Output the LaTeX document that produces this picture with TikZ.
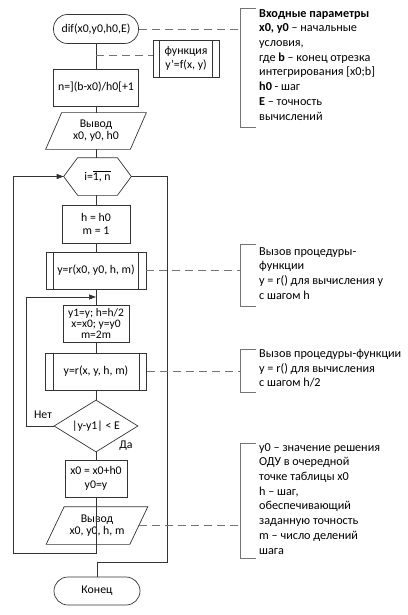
\documentclass[tikz,border=0pt]{standalone}
\usepackage{fontspec}
\setmainfont{Carlito}
\usepackage{tikz}
\usetikzlibrary{arrows.meta,shapes.geometric}

\tikzset{
    line/.style={draw=black!80, line width=.7pt},
    box/.style={line, rectangle, align=center, inner sep=0pt, font=\fontsize{11.8}{13.5}\selectfont},
    term/.style={box, rounded corners=14pt},
    bare/.style={box, draw=none},
    link/.style={line, -{Triangle[length=7pt,width=5pt]}},
    note/.style={align=left, anchor=north west, inner sep=0pt, font=\fontsize{12.2}{14.7}\selectfont},
    bracket/.style={draw=black!55, line width=.7pt},
    comm/.style={draw=black!55, line width=.7pt, dash pattern=on 8pt off 5pt},
}

\begin{document}
\begin{tikzpicture}[x=1pt, y=-1pt]
    \useasboundingbox (0,0) rectangle (407,615);

    % flowchart
    \node[term, minimum width=85pt, minimum height=29pt] (start) at (96,29) {dif(x0,y0,h0,E)};
    \node[box, minimum width=66pt, minimum height=37pt] (func) at (186,58.5) {функция\\y'=f(x, y)};
    \node[box, minimum width=85pt, minimum height=37pt] (calc) at (96,87.5) {n=](b-x0)/h0[+1};
    \node[bare, minimum width=84pt, minimum height=36pt, font=\fontsize{11.8}{12}\selectfont] (out1) at (96,131) {Вывод\\x0, y0, h0};
    \node[bare, minimum width=67pt, minimum height=37pt] (loop) at (97.5,176.5) {i=$\overline{\mbox{1, n}}$};
    \node[box, minimum width=68pt, minimum height=38pt] (init) at (96,224) {h = h0\\m = 1};
    \node[box, minimum width=100pt, minimum height=37pt] (call1) at (96,270.5) {y=r(x0, y0, h, m)};
    \node[box, minimum width=66pt, minimum height=37pt, font=\fontsize{11.5}{11}\selectfont] (half) at (96,323.5) {y1=y; h=h/2\\x=x0; y=y0\\m=2m};
    \node[box, minimum width=101pt, minimum height=37pt] (call2) at (96,371.5) {y=r(x, y, h, m)};
    \node[box, diamond, aspect=1.6, minimum width=84pt, minimum height=52pt] (test) at (96,426) {|y-y1| < E};
    \node[box, minimum width=62pt, minimum height=37pt] (step) at (96,478.5) {x0 = x0+h0\\y0=y};
    \node[bare, minimum width=83pt, minimum height=37pt, font=\fontsize{11.8}{12}\selectfont] (out2) at (97,525.5) {Вывод\\x0, y0, h, m};
    \node[term, minimum width=86pt, minimum height=28pt] (stop) at (97,591) {Конец};

    \node[bare] (no) at (43,415) {Нет};
    \node[bare] (yes) at (126,446) {Да};

    % outlines of the bare nodes
    \draw[line] ([xshift=8pt]out1.north west) -- ([xshift=8pt]out1.north east)
        -- ([xshift=-8pt]out1.south east) -- ([xshift=-8pt]out1.south west) -- cycle;
    \draw[line] ([xshift=9pt]out2.north west) -- ([xshift=9pt]out2.north east)
        -- ([xshift=-9pt]out2.south east) -- ([xshift=-9pt]out2.south west) -- cycle;
    \draw[line] (loop.west) -- ([xshift=14pt]loop.north west) -- ([xshift=-14pt]loop.north east)
        -- (loop.east) -- ([xshift=-14pt]loop.south east) -- ([xshift=14pt]loop.south west) -- cycle;
    \foreach \n/\d in {func/7pt, call1/8pt, call2/8pt} {
        \draw[line] ([xshift=\d]\n.north west) -- ([xshift=\d]\n.south west);
        \draw[line] ([xshift=-\d]\n.north east) -- ([xshift=-\d]\n.south east);
    }

    % connectors
    \draw[line] (start) -- (calc);
    \draw[line] (calc) -- (out1);
    \draw[line] (out1) -- (loop.north -| out1.south);
    \draw[line] (loop.south -| init.north) -- (init);
    \draw[line] (init) -- (call1);
    \draw[line] (call1) -- (half);
    \draw[line] (half) -- (call2);
    \draw[line] (call2) -- (test);
    \draw[line] (test) -- (step);
    \draw[line] (step) -- (out2.south -| step.south);

    \coordinate (join) at (96,297);
    \draw[link] (test.west) -- ++(-27,0) |- (join);
    \draw[link] (out2.south -| step.south) -- ++(0,9) -- ++(-83,0) |- (loop.west);
    \draw[line] (loop.east) -| (167,562) -| (stop.north);

    % comments
    \coordinate (bx) at (240,0);
    \coordinate (fa) at (96,55);
    \draw[comm] (fa) -- (fa -| func.west);
    \draw[comm] (start.east) -- (start.east -| bx);
    \draw[comm] (call1.east) -- (call1.east -| bx);
    \draw[comm] (call2.east) -- (call2.east -| bx);
    \draw[comm] (out2.east) -- (out2.east -| bx);

    \draw[bracket] (256,8) -| (240,127) -- (256,127);
    \draw[bracket] (256,244) -| (240,306) -- (256,306);
    \draw[bracket] (256,349) -| (240,392) -- (256,392);
    \draw[bracket] (256,443) -| (240,558) -- (256,558);

    \node[note] (par) at (259,9) {\textbf{Входные параметры}\\\textbf{x0, y0} – начальные\\условия,\\где \textbf{b} – конец отрезка\\интегрирования [x0;b]\\\textbf{h0} - шаг\\\textbf{E} – точность\\вычислений};
    \node[note] (rh) at (259,247) {Вызов процедуры-\\функции\\y = r() для вычисления y\\с шагом h};
    \node[note] (rh2) at (259,349) {Вызов процедуры-функции\\y = r() для вычисления\\с шагом h/2};
    \node[note] (res) at (259,443) {y0 – значение решения\\ОДУ в очередной\\точке таблицы x0\\h – шаг,\\обеспечивающий\\заданную точность\\m – число делений\\шага};
\end{tikzpicture}
\end{document}
